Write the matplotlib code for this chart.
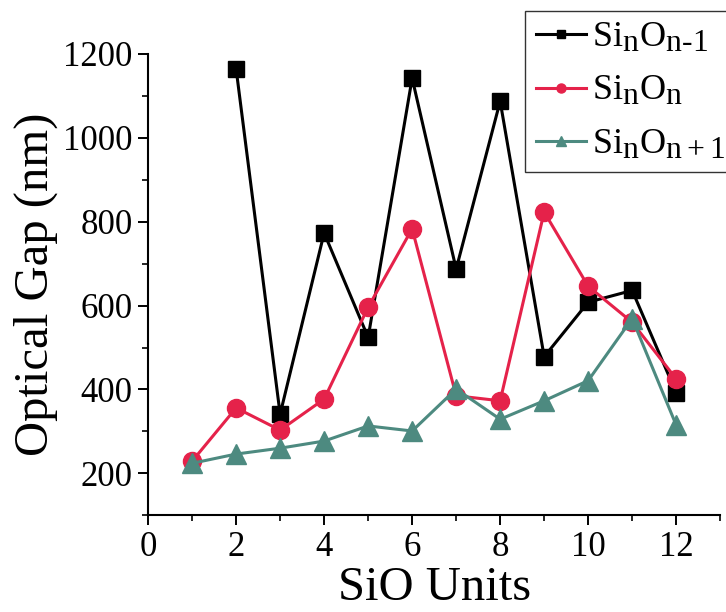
import numpy as np
import matplotlib
matplotlib.use("Agg")
import matplotlib.pyplot as plt
import matplotlib._mathtext as mathtext_impl
from matplotlib.ticker import MultipleLocator

plt.rcParams['font.family'] = 'Liberation Serif'
plt.rcParams['mathtext.fontset'] = 'custom'
plt.rcParams['mathtext.rm'] = 'Liberation Serif'
plt.rcParams['mathtext.it'] = 'Liberation Serif'
# subscripts in the legend are nearly full size in the original
mathtext_impl.SHRINK_FACTOR = 0.88

# SiO units on the x axis
units = [1, 2, 3, 4, 5, 6, 7, 8, 9, 10, 11, 12]
# optical gap (nm) per series
gap_nm1 = [None, 1164, 341, 773, 524, 1142, 687, 1087, 478, 608, 636, 392]
gap_n = [229, 356, 303, 377, 596, 783, 385, 373, 823, 646, 560, 425]
gap_np1 = [224, 246, 260, 277, 313, 301, 401, 329, 373, 421, 569, 315]

labels = [r'Si$_\mathregular{n}$O$_\mathregular{n\text{-}1}$',
          r'Si$_\mathregular{n}$O$_\mathregular{n}$',
          r'Si$_\mathregular{n}$O$_\mathregular{n+1}$']

fig = plt.figure(figsize=(7.26, 6.12), dpi=100)
ax = fig.add_axes([0.204, 0.158, 0.788, 0.754])

x1 = [u for u, v in zip(units, gap_nm1) if v is not None]
y1 = [v for v in gap_nm1 if v is not None]
ax.plot(x1, y1, color='black', marker='s', markersize=11, linewidth=2.2,
        label=labels[0])
ax.plot(units, gap_n, color='#e5224a', marker='o', markersize=13, linewidth=2.2,
        label=labels[1])
ax.plot(units, gap_np1, color='#4d8a80', marker='^', markersize=14, linewidth=2.2,
        label=labels[2])

ax.set_xlim(0, 13)
ax.set_ylim(100, 1200)
ax.xaxis.set_major_locator(MultipleLocator(2))
ax.xaxis.set_minor_locator(MultipleLocator(1))
ax.yaxis.set_minor_locator(MultipleLocator(100))
ax.set_yticks([200, 400, 600, 800, 1000, 1200])

for s in ['top', 'right']:
    ax.spines[s].set_visible(False)
for s in ['left', 'bottom']:
    ax.spines[s].set_linewidth(1.5)

ax.tick_params(axis='both', which='major', direction='out', length=7, width=1.4,
               labelsize=25, pad=4)
ax.tick_params(axis='both', which='minor', direction='out', length=4, width=1.2)

ax.set_xlabel('SiO Units', fontsize=35, labelpad=2)
ax.set_ylabel('Optical Gap (nm)', fontsize=35, labelpad=4)

leg = fig.legend(loc='upper left', bbox_to_anchor=(0.723, 0.982), fontsize=26,
                 frameon=True, fancybox=False, edgecolor='black',
                 handlelength=1.4, handletextpad=0.15, labelspacing=0.55,
                 borderpad=0.3, borderaxespad=0, markerscale=0.5)
leg.get_frame().set_linewidth(1.0)

fig.savefig('out.png', dpi=100)
